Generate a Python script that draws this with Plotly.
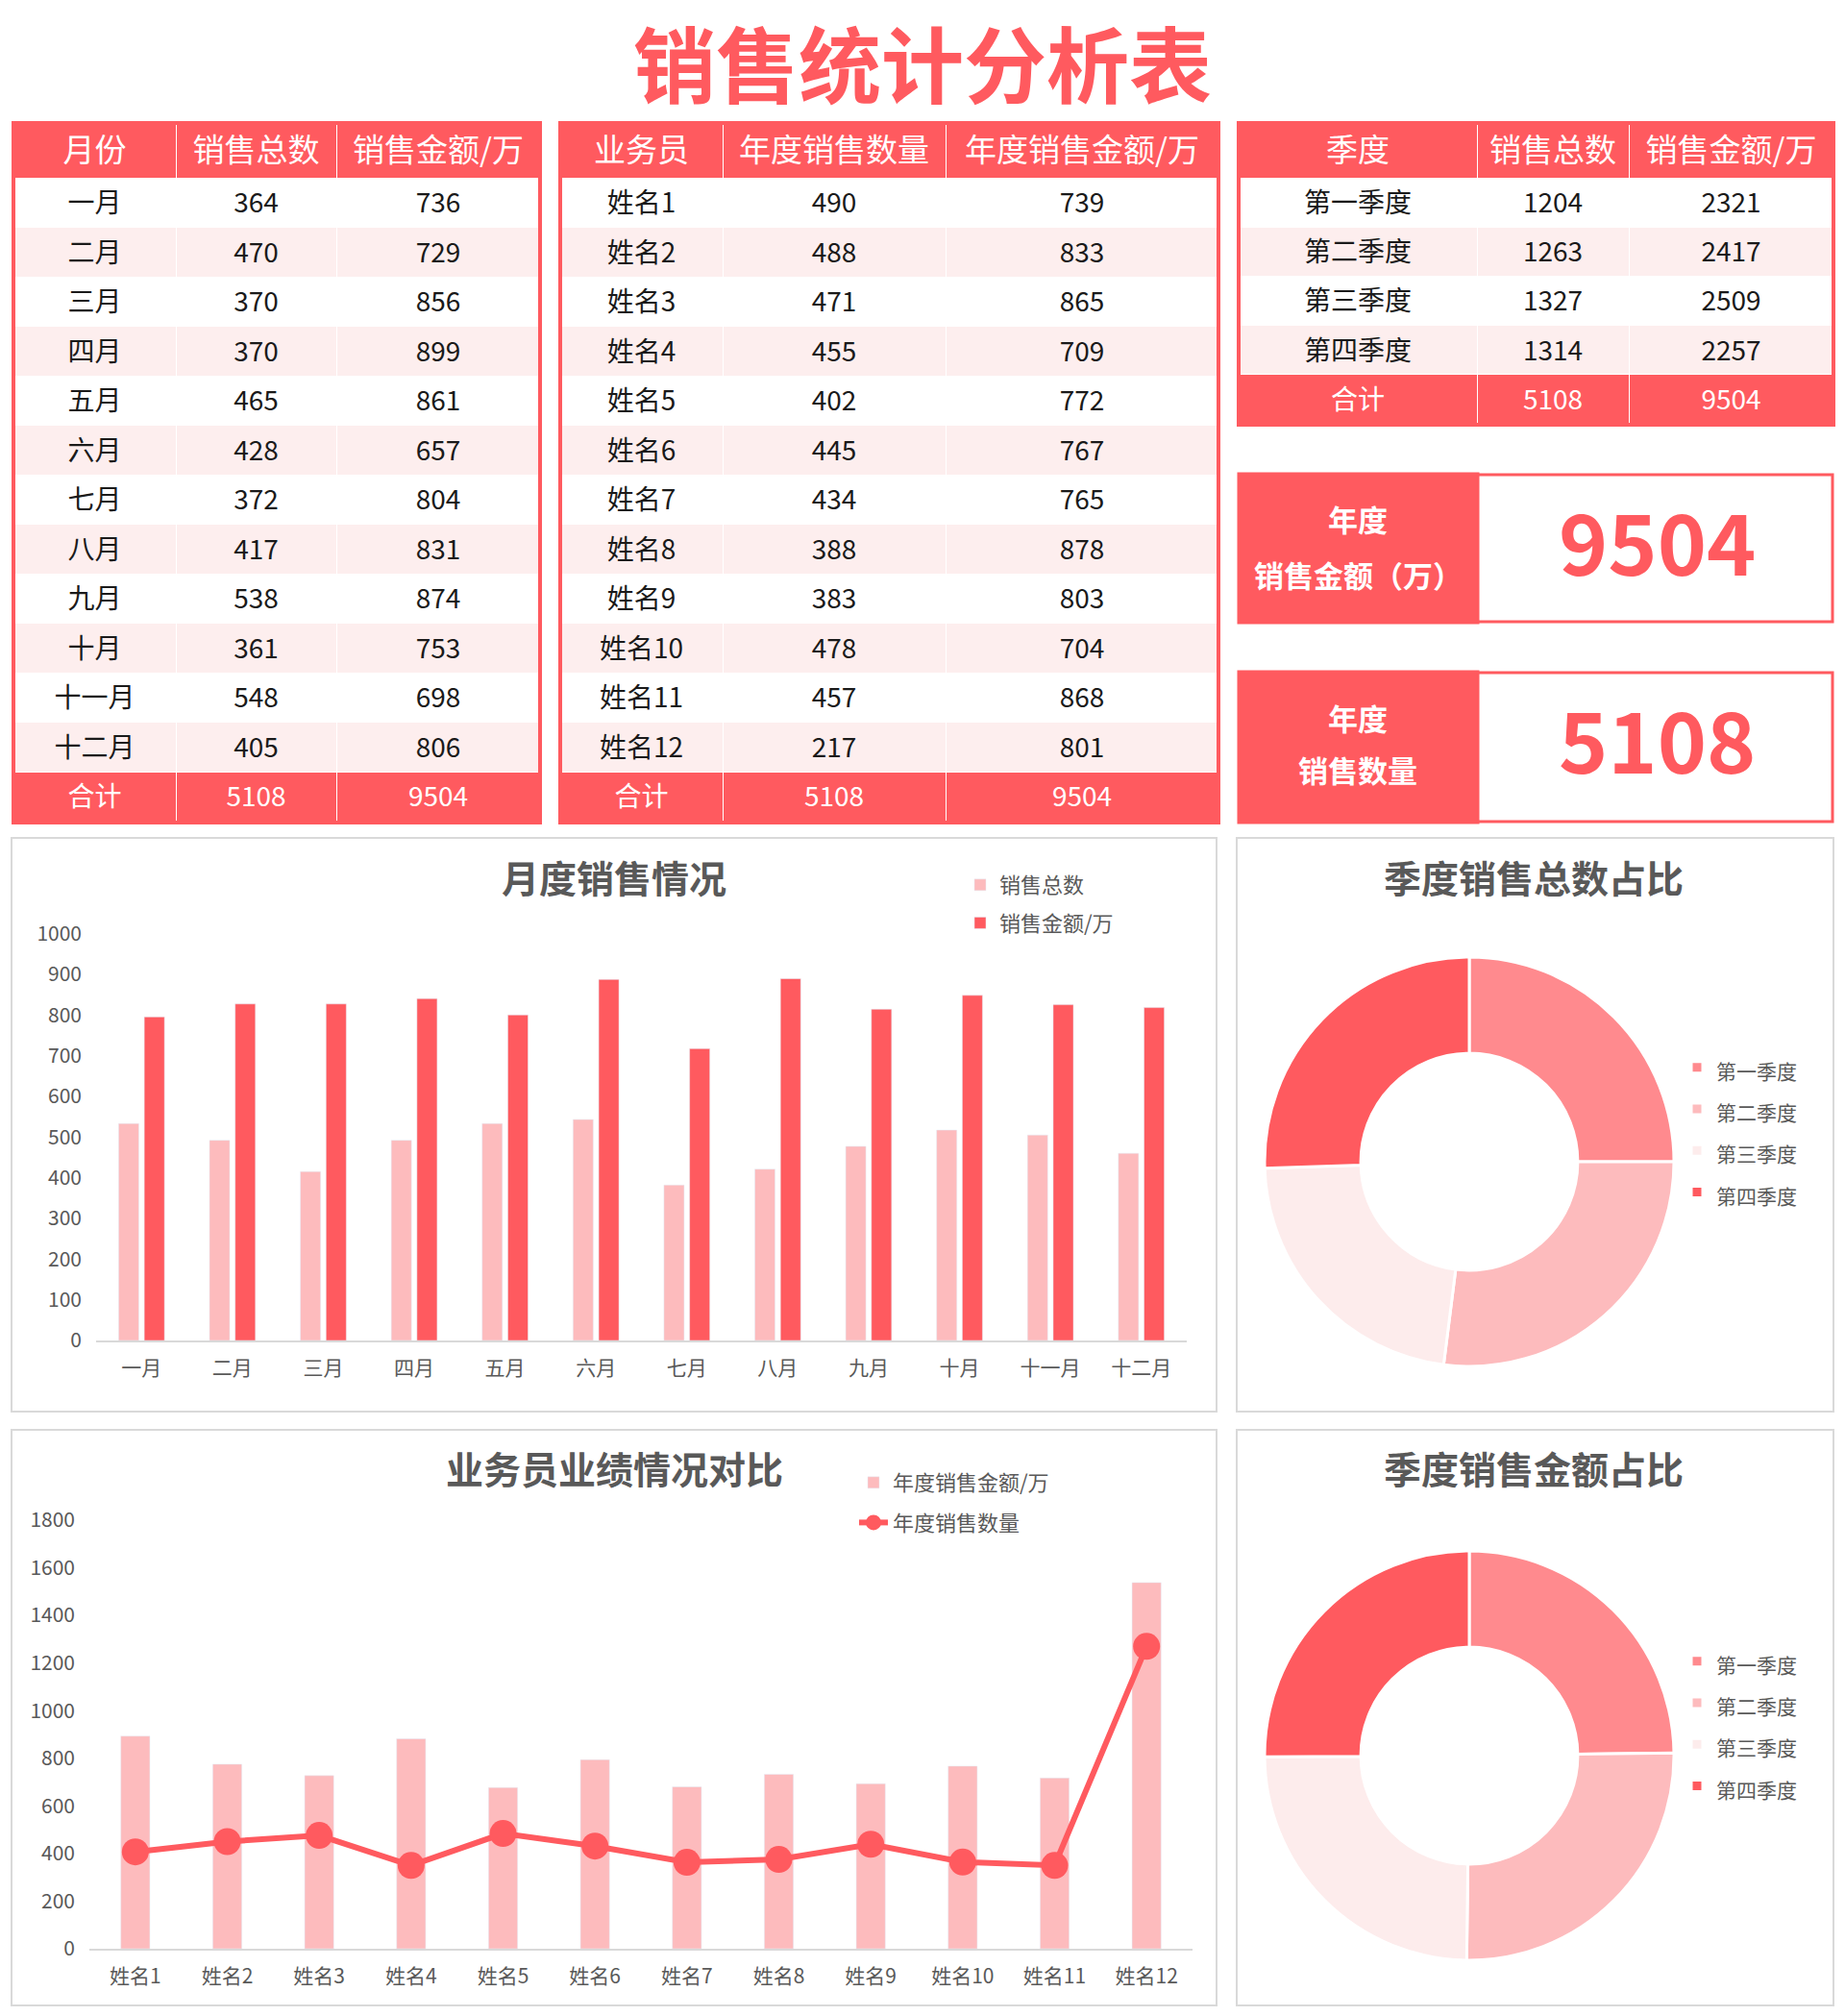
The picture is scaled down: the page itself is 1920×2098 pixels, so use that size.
import plotly.graph_objects as go

W, H = 1920, 2098
def fx(x): return x / W
def fy(y): return 1 - y / H

RED = '#FF5A5F'
PINK = '#FDBBBD'
SALMON = '#FF8A8E'
LIGHT = '#FDECEC'
ROWPINK = '#FDEEEE'
GRAY = '#595959'
BORDER = '#D9D9D9'
FONT = 'Noto Sans CJK SC'

# ---------------- data ----------------
months = ['一月', '二月', '三月', '四月', '五月', '六月', '七月', '八月', '九月', '十月', '十一月', '十二月']
month_count = [364, 470, 370, 370, 465, 428, 372, 417, 538, 361, 548, 405]
month_amount = [736, 729, 856, 899, 861, 657, 804, 831, 874, 753, 698, 806]

reps = ['姓名1', '姓名2', '姓名3', '姓名4', '姓名5', '姓名6', '姓名7', '姓名8', '姓名9', '姓名10', '姓名11', '姓名12']
rep_count = [490, 488, 471, 455, 402, 445, 434, 388, 383, 478, 457, 217]
rep_amount = [739, 833, 865, 709, 772, 767, 765, 878, 803, 704, 868, 801]

quarters = ['第一季度', '第二季度', '第三季度', '第四季度']
q_count = [1204, 1263, 1327, 1314]
q_amount = [2321, 2417, 2509, 2257]

# values as drawn in the charts
chart_month_count = [533, 492, 415, 492, 533, 543, 382, 421, 477, 517, 505, 460]
chart_month_amount = [795, 827, 827, 840, 800, 887, 717, 889, 814, 848, 825, 818]
chart_rep_amount = [893, 775, 727, 882, 677, 794, 680, 733, 693, 767, 717, 1538]
chart_rep_count = [407, 450, 476, 350, 484, 431, 363, 375, 439, 364, 350, 1270]
pie_count_share = [25.0, 27.0, 22.5, 25.5]
pie_amount_share = [24.8, 25.4, 24.7, 25.1]

total_count = sum(month_count)
total_amount = sum(month_amount)

fig = go.Figure()
shapes = []
annotations = []

# ---------------- tables ----------------
TEXT_SHIFT = 7  # px: plotly tables top-align text, shift text layer to centre it

def add_table(header, cols, x0, x1, y0, y1, colw, hh, rh):
    n = len(cols[0])
    fills = [('white' if i % 2 == 0 else ROWPINK) for i in range(n - 1)] + [RED]
    fcols = ['#1A1A1A'] * (n - 1) + ['white']
    # background layer (cell fills)
    fig.add_trace(go.Table(
        domain=dict(x=[fx(x0), fx(x1)], y=[fy(y1), fy(y0)]),
        columnwidth=colw,
        header=dict(values=[''] * len(header), fill_color=RED, height=hh,
                    line=dict(color='white', width=1)),
        cells=dict(values=[[''] * n for _ in cols], fill_color=[fills] * len(cols),
                   height=rh, line=dict(color='white', width=1)),
    ))
    # text layer
    fig.add_trace(go.Table(
        domain=dict(x=[fx(x0), fx(x1)], y=[fy(y1 + TEXT_SHIFT), fy(y0 + TEXT_SHIFT)]),
        columnwidth=colw,
        header=dict(values=header, fill_color='rgba(0,0,0,0)',
                    font=dict(family=FONT, size=33, color='white'),
                    align='center', height=hh, line=dict(color='rgba(0,0,0,0)', width=0)),
        cells=dict(values=cols, fill_color='rgba(0,0,0,0)',
                   font=dict(family=FONT, size=28, color=[fcols] * len(cols)),
                   align='center', height=rh, line=dict(color='rgba(0,0,0,0)', width=0)),
    ))
    shapes.append(dict(type='rect', xref='paper', yref='paper', x0=fx(x0), x1=fx(x1),
                       y0=fy(y1), y1=fy(y0), line=dict(color=RED, width=4)))

add_table(['月份', '销售总数', '销售金额/万'],
          [months + ['合计'], month_count + [total_count], month_amount + [total_amount]],
          14, 562, 128, 856, [169, 167, 212], 57, 51.5)
add_table(['业务员', '年度销售数量', '年度销售金额/万'],
          [reps + ['合计'], rep_count + [sum(rep_count)], rep_amount + [sum(rep_amount)]],
          583, 1268, 128, 856, [169, 232, 284], 57, 51.5)
add_table(['季度', '销售总数', '销售金额/万'],
          [quarters + ['合计'], q_count + [sum(q_count)], q_amount + [sum(q_amount)]],
          1289, 1908, 128, 442, [248, 158, 213], 57, 51.2)

# ---------------- KPI boxes ----------------
def kpi(y0, y1, lines, value, vy):
    shapes.append(dict(type='rect', xref='paper', yref='paper', x0=fx(1289), x1=fx(1538),
                       y0=fy(y1), y1=fy(y0), fillcolor=RED, line=dict(color=RED, width=3)))
    shapes.append(dict(type='rect', xref='paper', yref='paper', x0=fx(1538), x1=fx(1907),
                       y0=fy(y1 - 1), y1=fy(y0 + 1), fillcolor='white', line=dict(color=RED, width=3)))
    for (txt, yy) in lines:
        annotations.append(dict(text=txt, x=fx(1413), y=fy(yy), xref='paper', yref='paper',
                                showarrow=False, xanchor='center', yanchor='middle',
                                font=dict(family=FONT, size=31, color='white', weight='bold')))
    annotations.append(dict(text=str(value), x=fx(1724), y=fy(vy), xref='paper', yref='paper',
                            showarrow=False, xanchor='center', yanchor='middle',
                            font=dict(family=FONT, size=87, color=RED, weight='bold')))

kpi(493, 648, [('年度', 539), ('销售金额（万）', 597)], total_amount, 561)
kpi(699, 856, [('年度', 746), ('销售数量', 800)], total_count, 767)

# ---------------- panels ----------------
for (x0, x1, y0, y1) in [(12, 1266, 872, 1469), (1287, 1908, 872, 1469),
                         (12, 1266, 1488, 2087), (1287, 1908, 1488, 2087)]:
    shapes.append(dict(type='rect', xref='paper', yref='paper', x0=fx(x0), x1=fx(x1),
                       y0=fy(y1), y1=fy(y0), line=dict(color=BORDER, width=2), layer='below'))

# main title
annotations.append(dict(text='销售统计分析表', x=fx(960), y=fy(63), xref='paper', yref='paper',
                        showarrow=False, xanchor='center', yanchor='middle',
                        font=dict(family=FONT, size=86, color=RED, weight='bold')))
for (txt, x, y) in [('月度销售情况', 639, 912), ('季度销售总数占比', 1596, 912),
                    ('业务员业绩情况对比', 639, 1527), ('季度销售金额占比', 1596, 1527)]:
    annotations.append(dict(text=txt, x=fx(x), y=fy(y), xref='paper', yref='paper',
                            showarrow=False, xanchor='center', yanchor='middle',
                            font=dict(family=FONT, size=39, color=GRAY, weight='bold')))

# ---------------- monthly bar chart ----------------
fig.add_trace(go.Bar(x=months, y=chart_month_count, name='销售总数', marker_color=PINK,
                     xaxis='x', yaxis='y', legend='legend', legendgroup='a'))
fig.add_trace(go.Bar(x=months, y=chart_month_amount, name='销售金额/万', marker_color=RED,
                     xaxis='x', yaxis='y', legend='legend', legendgroup='b'))

# ---------------- salesperson chart ----------------
fig.add_trace(go.Bar(x=reps, y=chart_rep_amount, name='年度销售金额/万', marker_color=PINK,
                     width=0.316, xaxis='x2', yaxis='y2', legend='legend2', legendgroup='c'))
fig.add_trace(go.Scatter(x=reps, y=chart_rep_count, name='年度销售数量', mode='lines+markers',
                         line=dict(color=RED, width=6), marker=dict(color=RED, size=28),
                         xaxis='x2', yaxis='y2', legend='legend2', legendgroup='d'))

# ---------------- donuts ----------------
pie_colors = [SALMON, PINK, LIGHT, RED]
R = 213
for (share, cy, lg, style) in [(pie_count_share, 1209, 'legend3', 'font-size:21px'),
                               (pie_amount_share, 1827, 'legend4', 'font-size:21px;')]:
    labels = ['<span style="%s">%s</span>' % (style, q) for q in quarters]
    fig.add_trace(go.Pie(labels=labels, values=share, hole=0.53, sort=False,
                         direction='clockwise', rotation=0, textinfo='none',
                         marker=dict(colors=pie_colors, line=dict(color='white', width=3)),
                         domain=dict(x=[fx(1529 - R), fx(1529 + R)], y=[fy(cy + R), fy(cy - R)]),
                         legend=lg))

axis_font = dict(family=FONT, size=21, color=GRAY)
leg_common = dict(xanchor='left', yanchor='top', bgcolor='rgba(0,0,0,0)', itemwidth=30,
                  font=dict(family=FONT, size=22, color=GRAY))
pie_leg = dict(xanchor='left', yanchor='top', bgcolor='rgba(0,0,0,0)', itemwidth=30,
               font=dict(family=FONT, size=31, color=GRAY))

fig.update_layout(
    width=W, height=H, margin=dict(l=0, r=0, t=0, b=0, autoexpand=False),
    paper_bgcolor='white', plot_bgcolor='white',
    barmode='group', bargap=0.435, bargroupgap=0.213,
    xaxis=dict(domain=[fx(100), fx(1235)], anchor='y', showgrid=False, zeroline=False,
               showline=True, linecolor=BORDER, linewidth=2, tickfont=axis_font,
               ticklabelstandoff=9, range=[-0.5, 11.5]),
    yaxis=dict(domain=[fy(1395), fy(971.5)], anchor='x', range=[0, 1000], dtick=100,
               showgrid=False, zeroline=False, showline=False, tickfont=axis_font,
               ticklabelstandoff=14),
    xaxis2=dict(domain=[fx(93), fx(1241)], anchor='y2', showgrid=False, zeroline=False,
                showline=True, linecolor=BORDER, linewidth=2, tickfont=axis_font,
                ticklabelstandoff=9, range=[-0.5, 11.5]),
    yaxis2=dict(domain=[fy(2028), fy(1582)], anchor='x2', range=[0, 1800], dtick=200,
                showgrid=False, zeroline=False, showline=False, tickfont=axis_font,
                ticklabelstandoff=14),
    legend=dict(x=fx(1000), y=fy(900), tracegroupgap=8, **leg_common),
    legend2=dict(x=fx(889), y=fy(1522), tracegroupgap=10, **leg_common),
    legend3=dict(x=fx(1746), y=fy(1084), **pie_leg),
    legend4=dict(x=fx(1746), y=fy(1702), **pie_leg),
    shapes=shapes, annotations=annotations,
    font=dict(family=FONT),
)

fig.write_html("out.html", config={'displayModeBar': False},
               post_script="document.body.style.margin='0';")
